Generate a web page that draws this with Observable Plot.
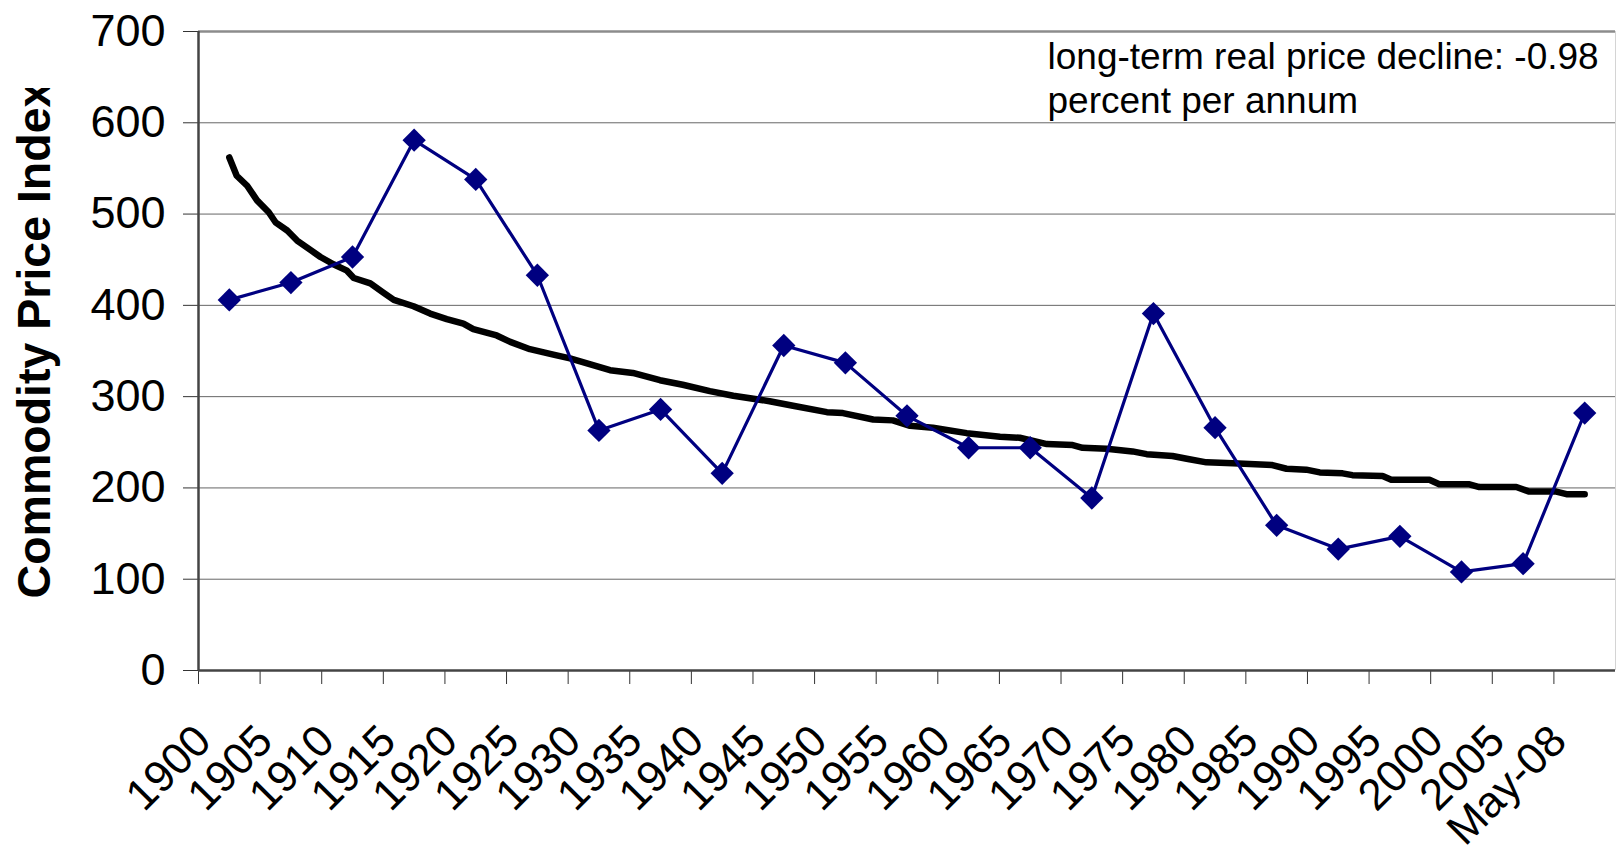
<!DOCTYPE html>
<html>
<head>
<meta charset="utf-8">
<script src="https://cdn.jsdelivr.net/npm/d3@7"></script>
<script src="https://cdn.jsdelivr.net/npm/@observablehq/plot@0.6"></script>
<style>
  html, body { margin: 0; padding: 0; background: #ffffff; }
  #chart svg { display: block; }
</style>
</head>
<body>
<div id="chart"></div>
<script>
// Category labels on the x axis
const categories = ["1900","1905","1910","1915","1920","1925","1930","1935","1940","1945","1950",
  "1955","1960","1965","1970","1975","1980","1985","1990","1995","2000","2005","May-08"];

// Commodity price index (blue series)
const prices = [406, 425, 453, 581, 538, 433, 263, 286, 216, 356, 337, 279,
  244, 244, 189, 391, 266, 159, 133, 147, 108, 117, 282];

// Long-term trend line: position along the category axis (0 = 1900 ... 22 = May-08) and value
const trendPos = [0.00, 0.12, 0.29, 0.45, 0.64, 0.75, 0.94, 1.10, 1.31, 1.48, 1.69, 1.91, 2.02, 2.29,
  2.50, 2.67, 2.99, 3.26, 3.53, 3.80, 3.96, 4.34, 4.56, 4.88, 5.26, 5.53, 6.18, 6.55, 6.99, 7.36,
  7.80, 8.18, 8.77, 9.15, 9.70, 9.96, 10.45, 10.77, 11.05, 11.42, 11.97, 12.51, 12.83, 13.27, 13.69,
  13.85, 14.24, 14.66, 14.89, 15.31, 15.54, 15.86, 16.29, 16.93, 17.16, 17.48, 17.70, 18.07, 18.23,
  18.72, 18.86, 19.48, 19.64, 20.13, 20.29, 20.89, 21.10, 21.54, 21.72, 22.00];
const trendValues = [562, 542, 531, 515, 502, 491, 482, 471, 461, 453, 445, 438, 430, 424,
  414, 406, 399, 391, 385, 380, 374, 367, 360, 352, 346, 342, 329, 326, 318, 313,
  306, 301, 295, 290, 283, 282, 275, 274, 268, 266, 260, 256, 255, 248, 247,
  244, 243, 240, 237, 235, 232, 228, 227, 225, 221, 220, 217, 216, 214,
  213, 209, 209, 204, 204, 201, 201, 196, 196, 193, 193];

// Y tick values
const yTicks = [0, 100, 200, 300, 400, 500, 600, 700];
const yInnerGrid = [100, 200, 300, 400, 500, 600];

// Texts
const yTitle = "Commodity Price Index";
const noteLines = ["long-term real price decline: -0.98", "percent per annum"];

const priceRows = categories.map((c, i) => ({pos: i, label: c, value: prices[i]}));
const trendRows = trendPos.map((p, i) => ({pos: p, value: trendValues[i]}));
const boundaries = categories.slice(0, -1).map((c, i) => i - 0.5).concat([categories.length - 1.5]);

const font = "'Liberation Sans', Arial, Helvetica, sans-serif";

const svg = Plot.plot({
  width: 1616,
  height: 848,
  marginLeft: 198,
  marginRight: 1,
  marginTop: 31,
  marginBottom: 178,
  style: {fontFamily: font, background: "#ffffff", color: "#000000"},
  x: {type: "linear", domain: [-0.5, categories.length - 0.5]},
  y: {domain: [0, 700]},
  marks: [
    Plot.ruleY(yInnerGrid, {stroke: "#666666", strokeWidth: 1}),
    Plot.ruleY([700], {stroke: "#8c8c8c", strokeWidth: 2.5}),
    Plot.ruleX([categories.length - 0.5], {stroke: "#d4d4d4", strokeWidth: 1}),
    Plot.axisY({ticks: yTicks, tickSize: 15, tickPadding: 18, fontSize: 45, label: null, stroke: "#333333"}),
    Plot.axisX({ticks: boundaries, tickSize: 14, tickFormat: () => "", label: null, stroke: "#333333"}),
    Plot.ruleX([-0.5], {stroke: "#444444", strokeWidth: 2.5}),
    Plot.ruleY([0], {stroke: "#444444", strokeWidth: 2.5}),
    Plot.line(trendRows, {x: "pos", y: "value", stroke: "#000000", strokeWidth: 6.5, strokeLinejoin: "round", strokeLinecap: "round"}),
    Plot.line(priceRows, {x: "pos", y: "value", stroke: "#000080", strokeWidth: 3.2}),
    Plot.dot(priceRows, {x: "pos", y: "value", symbol: "diamond2", r: 10.5, fill: "#000080", stroke: "none"}),
    Plot.text(priceRows, {x: "pos", text: "label", frameAnchor: "bottom", rotate: -45, textAnchor: "end",
      lineAnchor: "bottom", dx: -16, dy: 73, fontSize: 44, fill: "#000000"}),
    Plot.text([noteLines.join("\n")], {frameAnchor: "top-right", textAnchor: "start", lineAnchor: "top",
      dx: -568, dy: 7, fontSize: 37, lineHeight: 1.17, fill: "#000000"}),
    Plot.text([yTitle], {frameAnchor: "left", rotate: -90, textAnchor: "middle", dx: -163, dy: -11, fontSize: 46.5,
      fontWeight: "bold", fill: "#000000"})
  ]
});

document.getElementById("chart").appendChild(svg);

// Clip the rotated axis title at the top, as in the original
const ns = "http://www.w3.org/2000/svg";
const defs = document.createElementNS(ns, "defs");
const cp = document.createElementNS(ns, "clipPath");
cp.setAttribute("id", "ytitle-clip");
const rect = document.createElementNS(ns, "rect");
rect.setAttribute("x", 0); rect.setAttribute("y", 88);
rect.setAttribute("width", 190); rect.setAttribute("height", 760);
cp.appendChild(rect); defs.appendChild(cp); svg.insertBefore(defs, svg.firstChild);
d3.select(svg).selectAll("text").filter(function () { return this.textContent === yTitle; }).each(function () {
  const g = this.parentNode;
  const wrap = document.createElementNS(ns, "g");
  wrap.setAttribute("clip-path", "url(#ytitle-clip)");
  g.parentNode.insertBefore(wrap, g);
  wrap.appendChild(g);
});
</script>
</body>
</html>
